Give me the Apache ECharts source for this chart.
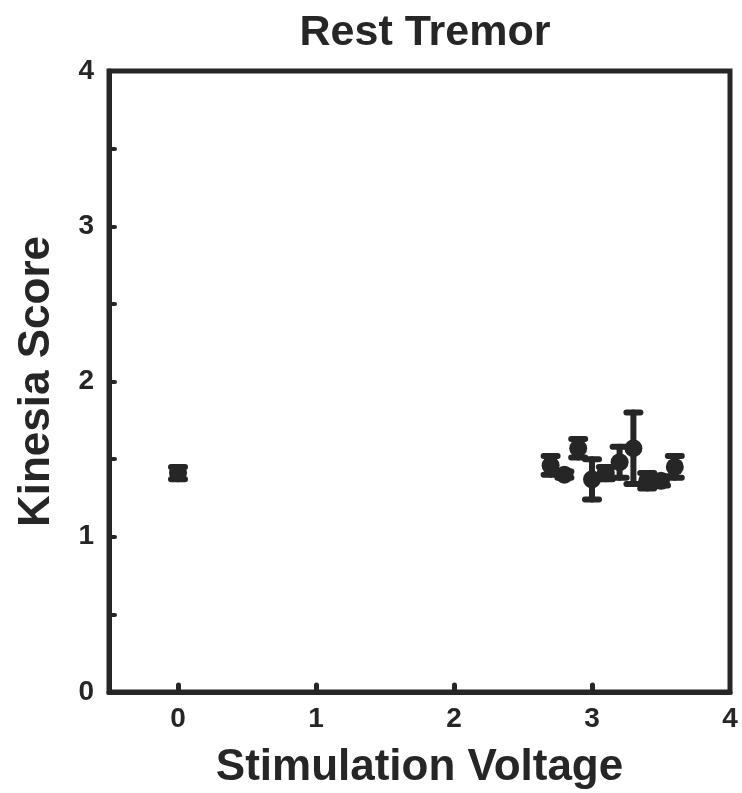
<!DOCTYPE html>
<html><head><meta charset="utf-8">
<script src="https://cdn.jsdelivr.net/npm/echarts@6/dist/echarts.min.js"></script>
<style>html,body{margin:0;padding:0;background:#fff}#c{width:742px;height:793px}</style>
</head><body><div id="c"></div>
<script>
const voltages = [0, 2.7, 2.8, 2.9, 3.0, 3.1, 3.2, 3.3, 3.4, 3.5, 3.6];
const scores   = [1.41, 1.46, 1.40, 1.57, 1.37, 1.41, 1.48, 1.57, 1.36, 1.36, 1.45];
const errors   = [0.04, 0.06, 0.02, 0.06, 0.13, 0.04, 0.10, 0.23, 0.05, 0.03, 0.07];
const xTicks = [0, 1, 2, 3, 4];
const yTicks = [0, 1, 2, 3, 4];
const yMinorTicks = [0.5, 1, 1.5, 2, 2.5, 3, 3.5];

const C = '#262626';
const FONT = 'Liberation Sans';
const pts = voltages.map((v, i) => [v, scores[i]]);
const errData = voltages.map((v, i) => [v, scores[i] - errors[i], scores[i] + errors[i]]);

const chart = echarts.init(document.getElementById('c'), null, {renderer: 'canvas'});
chart.setOption({
  animation: false,
  title: {
    text: 'Rest Tremor', left: 420, top: 7, textAlign: 'center',
    textStyle: {fontFamily: FONT, fontWeight: 'bold', fontSize: 43, color: C}
  },
  grid: {left: 109, right: 12, top: 71, bottom: 101, outerBoundsMode: 'none', containLabel: false,
         show: true, borderColor: C, borderWidth: 5, backgroundColor: 'transparent'},
  xAxis: {
    type: 'value', min: -0.5, max: 4,
    name: 'Stimulation Voltage', nameLocation: 'middle', nameGap: 54,
    nameTextStyle: {fontFamily: FONT, fontWeight: 'bold', fontSize: 44, color: C},
    axisLine: {show: true, onZero: false, lineStyle: {color: C, width: 5}},
    axisTick: {show: true, inside: true, length: 7, customValues: [0, 1, 2, 3], lineStyle: {color: C, width: 5, cap: 'round'}},
    axisLabel: {customValues: xTicks, margin: 13, fontFamily: FONT, fontWeight: 'bold', fontSize: 28, color: C},
    splitLine: {show: false}
  },
  yAxis: {
    type: 'value', min: 0, max: 4,
    name: 'Kinesia Score', nameLocation: 'middle', nameGap: 50,
    nameTextStyle: {fontFamily: FONT, fontWeight: 'bold', fontSize: 44, color: C},
    axisLine: {show: true, onZero: false, lineStyle: {color: C, width: 5}},
    axisTick: {show: true, inside: true, length: 6, customValues: yMinorTicks, lineStyle: {color: C, width: 4, cap: 'round'}},
    axisLabel: {customValues: yTicks, margin: 15, fontFamily: FONT, fontWeight: 'bold', fontSize: 28, color: C},
    splitLine: {show: false}
  },
  series: [
    {
      type: 'custom', data: errData, z: 2,
      renderItem: function (params, api) {
        const x = api.value(0);
        const lo = api.coord([x, api.value(1)]);
        const hi = api.coord([x, api.value(2)]);
        const hw = 7;
        const st = {stroke: C, lineWidth: 6, lineCap: 'round'};
        return {type: 'group', children: [
          {type: 'line', shape: {x1: lo[0], y1: lo[1], x2: hi[0], y2: hi[1]}, style: st},
          {type: 'line', shape: {x1: lo[0] - hw, y1: lo[1], x2: lo[0] + hw, y2: lo[1]}, style: st},
          {type: 'line', shape: {x1: hi[0] - hw, y1: hi[1], x2: hi[0] + hw, y2: hi[1]}, style: st}
        ]};
      }
    },
    {
      type: 'scatter', data: pts, symbol: 'circle', symbolSize: 18, z: 3,
      itemStyle: {color: C, opacity: 1}
    }
  ]
});
</script></body></html>
